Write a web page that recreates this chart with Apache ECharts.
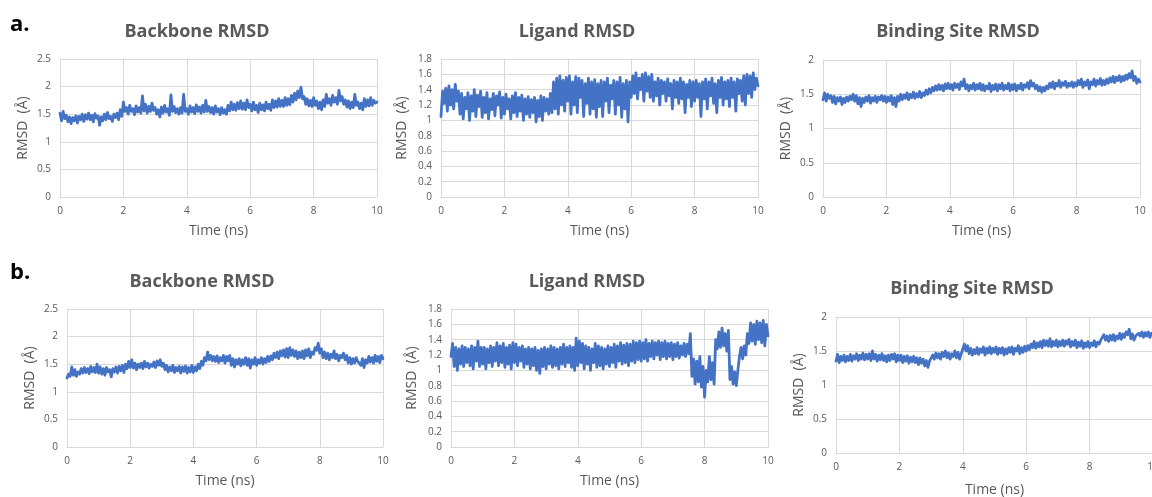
<!DOCTYPE html>
<html>
<head>
<meta charset="utf-8">
<script src="https://cdn.jsdelivr.net/npm/echarts@6/dist/echarts.min.js"></script>
<style>
  html, body { margin: 0; padding: 0; background: #ffffff; overflow: hidden; }
  #chart { width: 1152px; height: 497px; }
</style>
</head>
<body>
<div id="chart"></div>
<script>
// RMSD traces, sampled every 0.05 ns from 0 to 10 ns
const STEP_NS = 0.05;

const panelTitles = ['Backbone RMSD', 'Ligand RMSD', 'Binding Site RMSD'];
const rowLabels = ['a.', 'b.'];

// Row a
const backboneA = [
  1.52,1.38,1.55,1.42,1.48,1.36,1.45,1.33,1.44,1.38,1.47,1.34,1.46,1.40,1.50,1.37,1.49,1.41,1.52,1.40,
  1.48,1.36,1.51,1.43,1.47,1.30,1.45,1.38,1.50,1.40,1.53,1.42,1.46,1.37,1.50,1.44,1.52,1.40,1.58,1.46,
  1.72,1.55,1.62,1.50,1.66,1.55,1.60,1.49,1.65,1.54,1.62,1.52,1.83,1.56,1.68,1.52,1.64,1.55,1.70,1.57,
  1.62,1.50,1.58,1.45,1.63,1.52,1.66,1.54,1.60,1.48,1.85,1.55,1.64,1.53,1.60,1.50,1.62,1.52,1.86,1.55,
  1.60,1.50,1.65,1.54,1.62,1.51,1.67,1.55,1.63,1.52,1.66,1.54,1.75,1.55,1.64,1.53,1.62,1.50,1.65,1.54,
  1.60,1.49,1.62,1.52,1.58,1.50,1.66,1.56,1.72,1.58,1.68,1.57,1.71,1.60,1.74,1.59,1.70,1.58,1.76,1.62,
  1.68,1.56,1.72,1.58,1.66,1.53,1.70,1.58,1.67,1.56,1.72,1.60,1.68,1.57,1.76,1.62,1.74,1.63,1.78,1.64,
  1.75,1.64,1.80,1.66,1.78,1.67,1.84,1.72,1.88,1.76,1.92,1.80,1.99,1.78,1.82,1.68,1.78,1.65,1.75,1.64,
  1.80,1.66,1.74,1.60,1.72,1.58,1.76,1.64,1.86,1.70,1.78,1.66,1.84,1.72,1.80,1.68,1.93,1.74,1.82,1.68,
  1.76,1.63,1.74,1.60,1.72,1.62,1.86,1.66,1.72,1.60,1.70,1.58,1.78,1.64,1.76,1.65,1.80,1.66,1.75,1.70,
  1.72
];

const ligandA = [
  1.05,1.38,1.22,1.42,1.12,1.45,1.20,1.40,1.15,1.47,1.25,1.38,1.08,1.35,1.02,1.30,1.15,1.36,1.00,1.32,
  1.12,1.40,1.05,1.33,1.18,1.38,1.04,1.30,1.10,1.36,1.02,1.28,1.14,1.35,1.06,1.32,1.20,1.37,1.03,1.30,
  1.08,1.34,1.15,1.28,1.02,1.32,1.10,1.36,1.05,1.30,1.12,1.33,1.00,1.28,1.08,1.31,1.04,1.27,1.10,1.30,
  0.98,1.26,1.05,1.32,1.00,1.30,1.12,1.28,1.08,1.35,1.10,1.50,1.15,1.55,1.08,1.58,1.20,1.52,1.12,1.56,
  1.25,1.58,1.08,1.50,1.20,1.57,1.10,1.55,1.30,1.52,1.05,1.48,1.22,1.55,1.08,1.50,1.15,1.53,1.04,1.48,
  1.18,1.52,1.05,1.50,1.25,1.55,1.10,1.46,1.28,1.52,1.08,1.50,1.20,1.56,1.04,1.48,1.15,1.52,0.98,1.50,
  1.30,1.58,1.35,1.62,1.28,1.55,1.40,1.60,1.25,1.62,1.38,1.57,1.30,1.60,1.25,1.50,1.32,1.55,1.20,1.52,
  1.35,1.50,1.25,1.54,1.32,1.48,1.15,1.52,1.30,1.50,1.22,1.55,1.28,1.50,1.10,1.47,1.30,1.52,1.18,1.50,
  1.25,1.52,1.30,1.48,1.05,1.50,1.28,1.54,1.15,1.50,1.32,1.55,1.22,1.48,1.10,1.52,1.30,1.56,1.20,1.50,
  1.28,1.52,1.18,1.55,1.30,1.50,1.12,1.54,1.35,1.52,1.25,1.58,1.20,1.60,1.35,1.58,1.30,1.62,1.40,1.55,
  1.45
];

const siteA = [
  1.42,1.52,1.40,1.50,1.44,1.48,1.38,1.47,1.36,1.45,1.40,1.46,1.35,1.44,1.38,1.46,1.40,1.47,1.42,1.50,
  1.40,1.48,1.36,1.45,1.32,1.44,1.38,1.46,1.40,1.48,1.37,1.45,1.40,1.47,1.38,1.46,1.42,1.48,1.40,1.47,
  1.38,1.46,1.40,1.48,1.35,1.45,1.32,1.47,1.40,1.50,1.42,1.49,1.44,1.52,1.42,1.50,1.45,1.53,1.44,1.51,
  1.46,1.54,1.45,1.52,1.48,1.56,1.50,1.58,1.52,1.60,1.55,1.62,1.56,1.64,1.57,1.63,1.55,1.65,1.58,1.66,
  1.58,1.64,1.56,1.66,1.60,1.65,1.57,1.68,1.62,1.72,1.58,1.64,1.55,1.63,1.58,1.66,1.56,1.64,1.58,1.66,
  1.56,1.64,1.55,1.62,1.58,1.66,1.54,1.63,1.57,1.65,1.55,1.64,1.58,1.66,1.56,1.63,1.58,1.66,1.55,1.64,
  1.57,1.65,1.55,1.63,1.58,1.66,1.56,1.64,1.60,1.67,1.58,1.70,1.62,1.66,1.58,1.63,1.55,1.61,1.53,1.60,
  1.55,1.62,1.58,1.66,1.60,1.68,1.58,1.66,1.62,1.70,1.60,1.67,1.63,1.69,1.60,1.66,1.62,1.68,1.60,1.67,
  1.62,1.70,1.64,1.72,1.60,1.68,1.63,1.71,1.58,1.68,1.64,1.72,1.62,1.70,1.65,1.73,1.63,1.70,1.64,1.72,
  1.66,1.74,1.68,1.76,1.67,1.75,1.70,1.77,1.68,1.76,1.70,1.78,1.72,1.80,1.74,1.84,1.70,1.76,1.66,1.72,
  1.68
];

// Row b
const backboneB = [
  1.25,1.32,1.28,1.45,1.30,1.40,1.28,1.36,1.32,1.42,1.34,1.44,1.35,1.42,1.33,1.46,1.36,1.44,1.35,1.50,
  1.34,1.45,1.32,1.42,1.30,1.44,1.36,1.40,1.27,1.42,1.36,1.45,1.34,1.46,1.38,1.48,1.35,1.50,1.42,1.55,
  1.44,1.58,1.43,1.52,1.40,1.50,1.44,1.52,1.42,1.55,1.45,1.52,1.43,1.50,1.46,1.54,1.44,1.56,1.48,1.58,
  1.46,1.52,1.40,1.48,1.36,1.45,1.38,1.48,1.35,1.44,1.38,1.46,1.34,1.45,1.37,1.47,1.34,1.44,1.36,1.48,
  1.35,1.45,1.38,1.50,1.42,1.55,1.48,1.62,1.56,1.72,1.58,1.66,1.56,1.64,1.55,1.65,1.53,1.62,1.56,1.66,
  1.52,1.64,1.56,1.66,1.48,1.60,1.45,1.58,1.50,1.60,1.47,1.58,1.50,1.62,1.48,1.60,1.43,1.58,1.50,1.62,
  1.48,1.58,1.52,1.62,1.50,1.60,1.53,1.64,1.55,1.65,1.58,1.70,1.62,1.72,1.60,1.74,1.65,1.76,1.63,1.78,
  1.62,1.80,1.66,1.76,1.64,1.74,1.60,1.72,1.62,1.74,1.60,1.76,1.65,1.78,1.62,1.72,1.68,1.80,1.75,1.88,
  1.70,1.78,1.62,1.72,1.60,1.70,1.58,1.68,1.62,1.74,1.60,1.68,1.56,1.66,1.62,1.70,1.58,1.66,1.52,1.62,
  1.50,1.60,1.52,1.62,1.55,1.58,1.48,1.60,1.44,1.58,1.52,1.64,1.54,1.62,1.52,1.66,1.55,1.64,1.53,1.66,
  1.60
];

const ligandB = [
  1.18,1.35,1.05,1.30,1.00,1.28,1.08,1.32,1.05,1.30,1.10,1.28,1.06,1.32,1.02,1.30,1.12,1.38,1.05,1.30,
  1.08,1.30,1.02,1.28,1.10,1.32,1.05,1.30,1.12,1.36,1.06,1.32,1.10,1.35,1.04,1.30,1.08,1.33,1.02,1.36,
  1.10,1.34,1.06,1.30,1.12,1.32,1.04,1.28,1.08,1.30,1.02,1.28,1.06,1.30,1.00,1.26,0.96,1.28,1.05,1.30,
  1.02,1.28,1.08,1.32,1.04,1.30,1.06,1.28,1.02,1.30,1.08,1.34,1.05,1.30,1.10,1.32,1.04,1.30,1.00,1.42,
  1.06,1.38,1.10,1.35,1.02,1.32,1.08,1.30,1.00,1.28,1.10,1.35,1.04,1.32,1.06,1.30,1.02,1.28,1.08,1.32,
  1.05,1.30,1.10,1.34,1.04,1.32,1.12,1.36,1.08,1.33,1.10,1.35,1.06,1.34,1.12,1.38,1.10,1.36,1.14,1.38,
  1.12,1.36,1.15,1.40,1.12,1.35,1.18,1.38,1.15,1.36,1.20,1.38,1.14,1.36,1.18,1.38,1.15,1.35,1.18,1.36,
  1.14,1.34,1.18,1.36,1.16,1.32,1.20,1.35,1.18,1.34,1.22,1.48,0.92,1.15,0.82,1.12,0.85,1.18,0.78,1.05,
  0.65,1.00,0.85,1.18,0.88,1.10,0.82,1.40,1.28,1.50,1.30,1.55,1.32,1.48,1.25,1.52,0.88,1.05,0.82,0.98,
  0.80,1.00,1.18,1.30,1.15,1.32,1.20,1.48,1.35,1.62,1.38,1.60,1.34,1.64,1.40,1.62,1.36,1.65,1.32,1.60,
  1.45
];

const siteB = [
  1.35,1.45,1.33,1.42,1.36,1.44,1.34,1.42,1.36,1.45,1.35,1.43,1.38,1.46,1.36,1.44,1.38,1.47,1.37,1.45,
  1.38,1.46,1.36,1.50,1.38,1.45,1.35,1.44,1.37,1.46,1.36,1.43,1.34,1.44,1.36,1.45,1.38,1.46,1.34,1.44,
  1.36,1.44,1.33,1.42,1.35,1.43,1.32,1.41,1.34,1.42,1.33,1.40,1.30,1.40,1.32,1.38,1.28,1.36,1.26,1.35,
  1.36,1.44,1.38,1.47,1.40,1.46,1.38,1.48,1.42,1.50,1.40,1.47,1.38,1.46,1.42,1.50,1.40,1.48,1.38,1.46,
  1.48,1.60,1.50,1.58,1.46,1.54,1.44,1.52,1.46,1.55,1.45,1.53,1.48,1.56,1.44,1.54,1.47,1.56,1.46,1.54,
  1.48,1.56,1.45,1.54,1.47,1.55,1.44,1.53,1.46,1.55,1.48,1.56,1.45,1.54,1.50,1.58,1.46,1.55,1.48,1.57,
  1.50,1.58,1.52,1.60,1.55,1.64,1.54,1.62,1.56,1.64,1.55,1.66,1.58,1.65,1.57,1.68,1.56,1.64,1.58,1.66,
  1.56,1.64,1.58,1.66,1.57,1.65,1.60,1.67,1.56,1.64,1.58,1.66,1.55,1.63,1.57,1.65,1.54,1.62,1.56,1.64,
  1.55,1.62,1.58,1.65,1.56,1.63,1.60,1.66,1.64,1.74,1.66,1.72,1.64,1.73,1.66,1.74,1.65,1.72,1.68,1.76,
  1.67,1.75,1.70,1.78,1.74,1.82,1.68,1.75,1.66,1.72,1.70,1.76,1.72,1.78,1.70,1.77,1.72,1.78,1.70,1.76,
  1.74
];

// y-axis ranges per panel column: [max, interval]
const yScales = [[2.5, 0.5], [1.8, 0.2], [2, 0.5]];

const LINE = '#4472C4';
const TEXT = '#595959';
const GRID = '#d9d9d9';

// plot boxes (left, top, width, height)
const boxes = [
  [60, 59, 317, 138], [441, 59, 317, 138], [823, 60, 317, 137],
  [67, 309, 316, 138], [451, 309, 317, 138], [836, 317, 317, 136]
];
const seriesData = [backboneA, ligandA, siteA, backboneB, ligandB, siteB];

const grids = [], xAxes = [], yAxes = [], series = [], graphics = [];

boxes.forEach((b, i) => {
  const col = i % 3;
  grids.push({
    left: b[0], top: b[1], width: b[2], height: b[3],
    containLabel: false, outerBoundsMode: 'none'
  });
  xAxes.push({
    type: 'value', gridIndex: i, min: 0, max: 10, interval: 2,
    name: 'Time (ns)', nameLocation: 'middle', nameGap: i === 5 ? 30 : 27,
    nameTextStyle: { fontFamily: 'Open Sans', fontSize: 14, color: TEXT },
    axisLine: { show: true, lineStyle: { color: GRID, width: 1 } },
    axisTick: { show: false },
    axisLabel: { fontFamily: 'Open Sans', fontSize: 10, color: TEXT, margin: 9 },
    splitLine: { show: true, lineStyle: { color: GRID, width: 1 } }
  });
  yAxes.push({
    type: 'value', gridIndex: i, min: 0, max: yScales[col][0], interval: yScales[col][1],
    name: 'RMSD  (Å)', nameLocation: 'middle', nameGap: col === 1 ? 32 : 30,
    nameTextStyle: { fontFamily: 'Open Sans', fontSize: 14, color: TEXT },
    axisLine: { show: true, lineStyle: { color: GRID, width: 1 } },
    axisTick: { show: false },
    axisLabel: { fontFamily: 'Open Sans', fontSize: 10, color: TEXT, margin: 9 },
    splitLine: { show: true, lineStyle: { color: GRID, width: 1 } }
  });
  series.push({
    type: 'line', xAxisIndex: i, yAxisIndex: i,
    data: seriesData[i].map((v, k) => [k * STEP_NS, v]),
    showSymbol: false, symbol: 'none', silent: true, animation: false,
    lineStyle: { color: LINE, width: 2.8, join: 'round', cap: 'round' }
  });
});

// panel titles
const titlePos = [[197, 32], [577, 32], [958, 32], [202, 282], [587, 282], [972, 289]];
titlePos.forEach((p, i) => {
  graphics.push({
    type: 'text', x: p[0], y: p[1],
    style: { text: panelTitles[i % 3], fill: TEXT, font: 'bold 18px "Open Sans"',
             textAlign: 'center', textVerticalAlign: 'middle' }
  });
});
// row letters
[[10, 25], [10, 273]].forEach((p, i) => {
  graphics.push({
    type: 'text', x: p[0], y: p[1],
    style: { text: rowLabels[i], fill: '#000000', font: 'bold 22px "Open Sans"',
             textAlign: 'left', textVerticalAlign: 'middle' }
  });
});

const chart = echarts.init(document.getElementById('chart'), null, { renderer: 'canvas' });
chart.setOption({
  animation: false,
  backgroundColor: '#ffffff',
  grid: grids, xAxis: xAxes, yAxis: yAxes, series: series, graphic: graphics
});
</script>
</body>
</html>
